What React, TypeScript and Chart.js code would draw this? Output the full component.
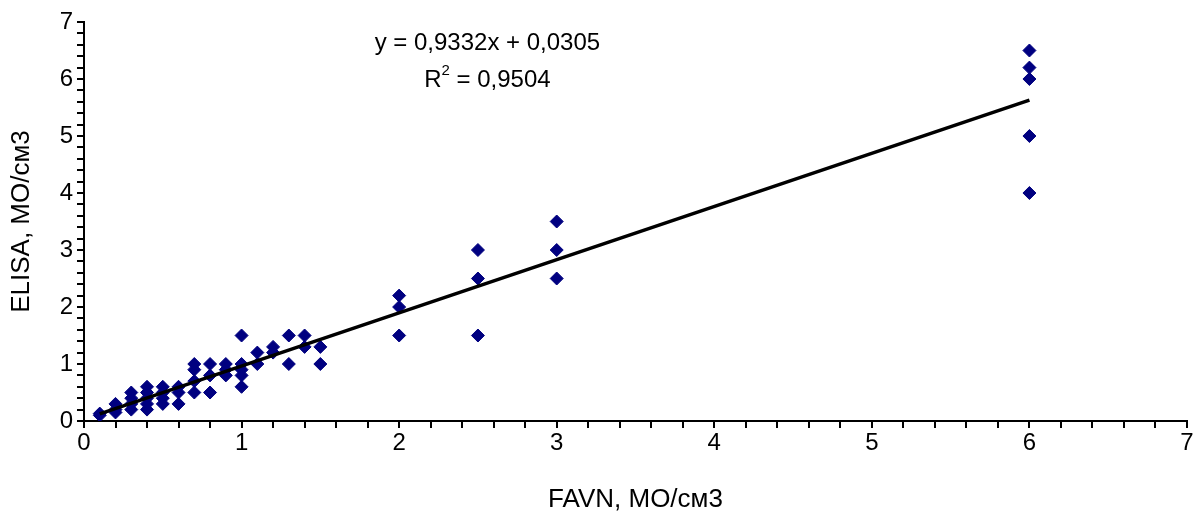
import React, { useEffect, useRef } from "react";
import { Chart, registerables } from "chart.js";

Chart.register(...registerables);

// FAVN values (x) and ELISA values (y), IU/ml
const favn: number[] = [
  0.1, 0.1,
  0.2, 0.2, 0.2,
  0.3, 0.3, 0.3, 0.3,
  0.4, 0.4, 0.4, 0.4, 0.4,
  0.5, 0.5, 0.5, 0.5,
  0.6, 0.6, 0.6,
  0.7, 0.7, 0.7, 0.7,
  0.8, 0.8, 0.8,
  0.9, 0.9, 0.9,
  1.0, 1.0, 1.0, 1.0, 1.0,
  1.1, 1.1,
  1.2, 1.2,
  1.3, 1.3,
  1.4, 1.4,
  1.5, 1.5,
  2, 2, 2,
  2.5, 2.5, 2.5,
  3, 3, 3,
  6, 6, 6, 6, 6,
];
const elisa: number[] = [
  0.1, 0.13,
  0.3, 0.2, 0.15,
  0.5, 0.4, 0.3, 0.2,
  0.6, 0.5, 0.4, 0.3, 0.2,
  0.6, 0.5, 0.4, 0.3,
  0.6, 0.5, 0.3,
  1.0, 0.9, 0.7, 0.5,
  1.0, 0.8, 0.5,
  1.0, 0.9, 0.8,
  1.5, 1.0, 0.9, 0.8, 0.6,
  1.2, 1.0,
  1.3, 1.2,
  1.5, 1.0,
  1.5, 1.3,
  1.3, 1.0,
  2.2, 2.0, 1.5,
  3.0, 2.5, 1.5,
  3.5, 3.0, 2.5,
  6.5, 6.2, 6.0, 5.0, 4.0,
];

const slope = 0.9332;
const intercept = 0.0305;
const trendRange: number[] = [0.1, 6];
const equationText = "y = 0,9332x + 0,0305";
const r2Value = "0,9504";
const xTitle = "FAVN, МО/см3";
const yTitle = "ELISA, МО/см3";
const axisMin = 0;
const axisMax = 7;

const FONT = "'Liberation Sans', Arial, sans-serif";

export default function App() {
  const ref = useRef<HTMLCanvasElement | null>(null);

  useEffect(() => {
    document.body.style.margin = "0";
    const canvas = ref.current;
    if (!canvas) return;

    const points = favn.map((x, i) => ({ x, y: elisa[i] }));
    const trend = trendRange.map((x) => ({ x, y: slope * x + intercept }));

    const labelFmt = (v: any) => {
      const n = Number(v);
      return Math.abs(n - Math.round(n)) < 1e-6 ? String(Math.round(n)) : "";
    };

    const annotationPlugin = {
      id: "eqn",
      afterDatasetsDraw(chart: any) {
        const { ctx, scales } = chart;
        const xs = scales.x;
        const ys = scales.y;
        const cx = xs.getPixelForValue(2.56);
        ctx.save();
        ctx.fillStyle = "#000";
        ctx.textBaseline = "middle";
        ctx.font = `24px ${FONT}`;
        ctx.textAlign = "center";
        ctx.fillText(equationText, cx, ys.getPixelForValue(6.63));
        const y2 = ys.getPixelForValue(5.98);
        const partA = "R";
        const sup = "2";
        const partB = " = " + r2Value;
        const wA = ctx.measureText(partA).width;
        const wB = ctx.measureText(partB).width;
        ctx.font = `15px ${FONT}`;
        const wS = ctx.measureText(sup).width;
        const total = wA + wS + wB;
        const x0 = cx - total / 2;
        ctx.textAlign = "left";
        ctx.font = `24px ${FONT}`;
        ctx.fillText(partA, x0, y2);
        ctx.font = `15px ${FONT}`;
        ctx.fillText(sup, x0 + wA, y2 - 9);
        ctx.font = `24px ${FONT}`;
        ctx.fillText(partB, x0 + wA + wS, y2);
        ctx.restore();
      },
    };

    const chart = new Chart(canvas, {
      type: "scatter",
      data: {
        datasets: [
          {
            type: "line",
            data: trend,
            borderColor: "#000",
            borderWidth: 3.5,
            pointRadius: 0,
            fill: false,
            order: 0,
          } as any,
          {
            data: points,
            pointStyle: "rectRot",
            pointRadius: 6.5,
            backgroundColor: "#000080",
            borderColor: "#000080",
            borderWidth: 1,
            order: 1,
          },
        ],
      },
      plugins: [annotationPlugin],
      options: {
        animation: false,
        responsive: false,
        maintainAspectRatio: false,
        layout: { padding: { top: 22, right: 9, left: 0, bottom: 0 } },
        plugins: {
          legend: { display: false },
          tooltip: { enabled: false },
        },
        scales: {
          x: {
            type: "linear",
            min: axisMin,
            max: axisMax,
            afterFit: (s: any) => {
              s.height = 94;
            },
            ticks: {
              stepSize: 0.2,
              autoSkip: false,
              maxRotation: 0,
              callback: labelFmt,
              color: "#000",
              font: { family: FONT, size: 24 },
              padding: 1,
            },
            grid: {
              drawOnChartArea: false,
              drawTicks: true,
              tickLength: 7,
              color: "#000",
              lineWidth: 2,
            },
            border: { color: "#000", width: 2 },
            title: {
              display: true,
              text: xTitle,
              color: "#000",
              font: { family: FONT, size: 26 },
              padding: { top: 20, bottom: 0 },
            },
          },
          y: {
            type: "linear",
            min: axisMin,
            max: axisMax,
            afterFit: (s: any) => {
              s.width = 84;
            },
            ticks: {
              stepSize: 0.2,
              autoSkip: false,
              callback: labelFmt,
              color: "#000",
              font: { family: FONT, size: 24 },
              padding: 4,
            },
            grid: {
              drawOnChartArea: false,
              drawTicks: true,
              tickLength: 7,
              color: "#000",
              lineWidth: 2,
            },
            border: { color: "#000", width: 2 },
            title: {
              display: true,
              text: yTitle,
              color: "#000",
              font: { family: FONT, size: 26 },
              padding: { top: 6, bottom: 0 },
            },
          },
        },
      },
    });
    return () => chart.destroy();
  }, []);

  return (
    <div style={{ width: 1196, height: 515 }}>
      <canvas ref={ref} width={1196} height={515} style={{ display: "block" }} />
    </div>
  );
}
